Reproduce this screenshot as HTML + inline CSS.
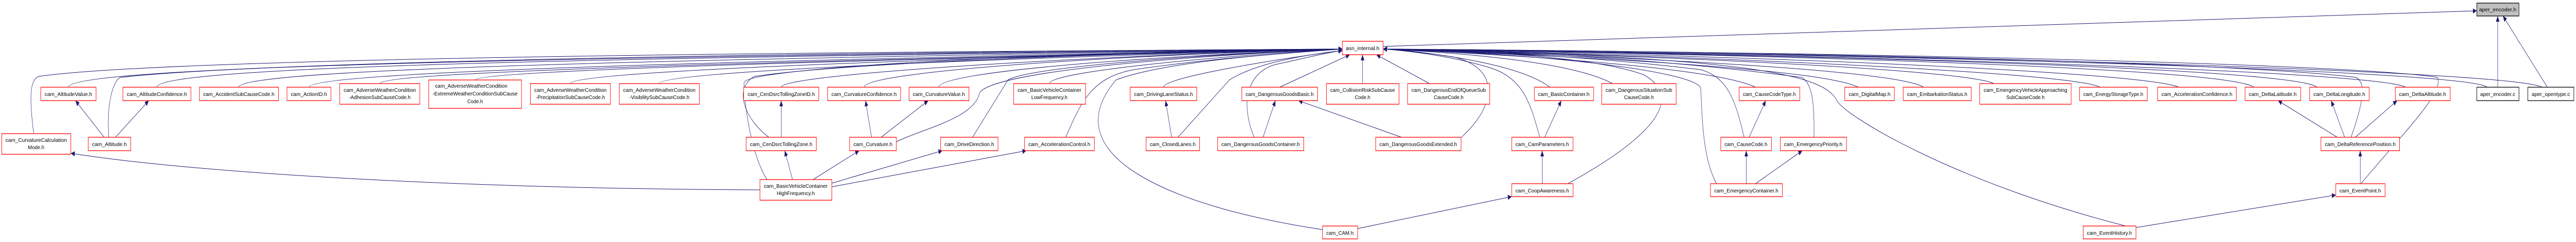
<!DOCTYPE html>
<html><head><meta charset="utf-8"><meta name="viewport" content="width=7271, initial-scale=1"><style>
html,body{margin:0;padding:0;background:#fff;width:100%;height:100%;overflow:hidden;}
svg{display:block;position:absolute;left:0;top:0;width:100vw;height:100vh;}
text{font-family:"Liberation Sans",sans-serif;font-size:10px;fill:#000;}
.n{fill:#fff;stroke:#ff0000;stroke-width:1.3;}
.b{fill:#fff;stroke:#000;stroke-width:1.3;}
.e{fill:none;stroke:#191970;stroke-width:1;}
</style></head><body>
<svg viewBox="0 0 7271 469" preserveAspectRatio="none" xmlns="http://www.w3.org/2000/svg">
<defs><marker id="a" markerUnits="userSpaceOnUse" markerWidth="12" markerHeight="10" refX="11" refY="5" orient="auto"><path d="M0,0 L11,5 L0,10 z" fill="#191970"/></marker></defs>
<g class="e" marker-end="url(#a)">
<path d="M193,169 C193,130 1500,110 3789,95"/>
<path d="M443,169 C443,130 1600,112 3789,95"/>
<path d="M674,169 C674,135 1800,115 3789,95"/>
<path d="M872,169 C872,140 2000,118 3789,95"/>
<path d="M1072,162 C1072,140 2100,120 3789,95"/>
<path d="M1341,155 C1341,138 2300,118 3789,95"/>
<path d="M1610,162 C1610,140 2500,115 3789,95"/>
<path d="M1861,162 C1861,140 2700,115 3789,95"/>
<path d="M2205,169 C2205,145 3000,110 3789,95"/>
<path d="M2439,169 C2439,140 3100,108 3789,95"/>
<path d="M2650,169 C2650,140 3200,110 3789,95"/>
<path d="M2962,162 C2962,140 3400,110 3789,95"/>
<path d="M3284,169 C3284,150 3600,115 3789,98"/>
<path d="M3612,169 L3810,106"/>
<path d="M95,259 C85,200 80,155 110,148 C500,110 2500,100 3789,95"/>
<path d="M307,266 C300,200 320,155 340,150 C800,115 2600,100 3789,95"/>
<path d="M2170,266 C2100,230 2070,170 2130,148 C2400,120 3300,100 3789,95"/>
<path d="M2530,275 C2600,250 2750,230 2765,180 C2800,140 3300,110 3789,95"/>
<path d="M2745,266 L2845,155 C2900,130 3400,105 3789,95"/>
<path d="M3008,266 C3050,200 3080,150 3200,135 C3450,110 3700,100 3789,95"/>
<path d="M3325,266 L3470,155 C3550,120 3700,105 3789,98"/>
<path d="M3540,266 C3500,200 3520,140 3600,125 C3700,110 3760,100 3789,98"/>
<path d="M2165,348 C2120,300 2100,200 2100,160 C2110,130 3000,100 3789,95"/>
<path d="M3733,445 C3300,400 2970,300 3150,155 C3300,115 3700,100 3789,95"/>
<path d="M3846,162 L3846,106"/>
<path d="M4035,162 L3885,106"/>
<path d="M4375,169 C4300,130 4100,105 3904,95"/>
<path d="M4552,162 C4450,125 4200,105 3904,95"/>
<path d="M4955,169 C4850,135 4400,110 3904,95"/>
<path d="M5245,169 C5150,135 4500,110 3904,95"/>
<path d="M5430,169 C5350,135 4600,110 3904,95"/>
<path d="M5628,162 C5550,135 4700,108 3904,95"/>
<path d="M5928,169 C5850,140 4800,108 3904,95"/>
<path d="M6150,169 C6050,140 5000,108 3904,95"/>
<path d="M6362,169 C6300,135 5200,108 3904,95"/>
<path d="M6540,169 C6480,135 5300,108 3904,95"/>
<path d="M6790,169 C6720,140 5400,108 3904,95"/>
<path d="M7020,169 C6980,140 5600,108 3904,95"/>
<path d="M7175,169 C7100,140 5700,108 3904,95"/>
<path d="M4125,266 C4230,200 4230,130 4100,110 C4000,100 3950,96 3904,95"/>
<path d="M4346,266 C4320,200 4300,150 4200,130 C4100,110 4000,100 3904,95"/>
<path d="M4923,266 C4900,200 4880,150 4800,135 C4500,110 4200,100 3904,95"/>
<path d="M5120,266 C5122,200 5115,160 5085,150 C4700,115 4300,100 3904,95"/>
<path d="M6636,266 C6670,200 6680,160 6650,150 C6300,120 5000,100 3904,95"/>
<path d="M4425,356 C4600,290 4780,200 4640,145 C4500,110 4200,100 3904,95"/>
<path d="M4845,356 C4800,300 4805,200 4800,170 C4780,140 4400,105 3904,95"/>
<path d="M6664,356 C6780,260 6900,180 6880,150 C6600,120 5000,100 3904,95"/>
<path d="M6000,438 C5500,350 5200,220 5185,195 C5150,150 5000,110 3904,95"/>
<path d="M294,266 L213,195"/>
<path d="M326,266 L420,195"/>
<path d="M2205,266 L2205,195"/>
<path d="M2237,348 L2215,292"/>
<path d="M2145,368 C1200,365 500,330 200,297"/>
<path d="M2295,348 L2425,292"/>
<path d="M2348,355 L2660,292"/>
<path d="M2348,362 L2897,292"/>
<path d="M2460,266 L2443,195"/>
<path d="M2487,266 L2620,195"/>
<path d="M3307,266 L3290,195"/>
<path d="M3565,266 L3600,195"/>
<path d="M3956,266 L3665,195"/>
<path d="M4360,266 L4407,195"/>
<path d="M4353,356 L4353,292"/>
<path d="M3832,443 L4267,381"/>
<path d="M4937,266 L4984,195"/>
<path d="M4929,356 L4929,292"/>
<path d="M4955,356 L5087,292"/>
<path d="M6597,266 L6430,195"/>
<path d="M6618,266 L6580,195"/>
<path d="M6648,266 L6766,195"/>
<path d="M6662,356 L6662,292"/>
<path d="M6029,441 L6593,378"/>
<path d="M7050,169 L7050,31"/>
<path d="M7190,169 L7065,31"/>
<path d="M3904,90 L6991,21"/>
</g>
<g>
<rect x="6991" y="6" width="119" height="25" fill="#bfbfbf" stroke="#000" stroke-width="1.3"/>
<text x="7050" y="22" text-anchor="middle" textLength="105" lengthAdjust="spacingAndGlyphs">aper_encoder.h</text>
<rect class="n" x="3789" y="80" width="115" height="26"/>
<text x="3846" y="97" text-anchor="middle" textLength="95" lengthAdjust="spacingAndGlyphs">asn_internal.h</text>

<rect class="n" x="115" y="169" width="156" height="26"/><text x="193" y="186" text-anchor="middle" textLength="134" lengthAdjust="spacingAndGlyphs">cam_AltitudeValue.h</text>
<rect class="n" x="347" y="169" width="192" height="26"/><text x="443" y="186" text-anchor="middle" textLength="170" lengthAdjust="spacingAndGlyphs">cam_AltitudeConfidence.h</text>
<rect class="n" x="563" y="169" width="223" height="26"/><text x="674" y="186" text-anchor="middle" textLength="201" lengthAdjust="spacingAndGlyphs">cam_AccidentSubCauseCode.h</text>
<rect class="n" x="810" y="169" width="124" height="26"/><text x="872" y="186" text-anchor="middle" textLength="102" lengthAdjust="spacingAndGlyphs">cam_ActionID.h</text>
<rect class="n" x="959" y="162" width="226" height="40"/><text x="1072" y="178" text-anchor="middle" textLength="204" lengthAdjust="spacingAndGlyphs">cam_AdverseWeatherCondition</text><text x="1072" y="192" text-anchor="middle" textLength="174" lengthAdjust="spacingAndGlyphs">-AdhesionSubCauseCode.h</text>
<rect class="n" x="1210" y="155" width="262" height="55"/><text x="1330" y="170" text-anchor="middle" textLength="204" lengthAdjust="spacingAndGlyphs">cam_AdverseWeatherCondition</text><text x="1341" y="185" text-anchor="middle" textLength="240" lengthAdjust="spacingAndGlyphs">-ExtremeWeatherConditionSubCause</text><text x="1341" y="200" text-anchor="middle" textLength="44" lengthAdjust="spacingAndGlyphs">Code.h</text>
<rect class="n" x="1497" y="162" width="226" height="40"/><text x="1610" y="178" text-anchor="middle" textLength="204" lengthAdjust="spacingAndGlyphs">cam_AdverseWeatherCondition</text><text x="1610" y="192" text-anchor="middle" textLength="195" lengthAdjust="spacingAndGlyphs">-PrecipitationSubCauseCode.h</text>
<rect class="n" x="1748" y="162" width="226" height="40"/><text x="1861" y="178" text-anchor="middle" textLength="204" lengthAdjust="spacingAndGlyphs">cam_AdverseWeatherCondition</text><text x="1861" y="192" text-anchor="middle" textLength="170" lengthAdjust="spacingAndGlyphs">-VisibilitySubCauseCode.h</text>
<rect class="n" x="2099" y="169" width="212" height="26"/><text x="2205" y="186" text-anchor="middle" textLength="190" lengthAdjust="spacingAndGlyphs">cam_CenDsrcTollingZoneID.h</text>
<rect class="n" x="2336" y="169" width="206" height="26"/><text x="2439" y="186" text-anchor="middle" textLength="184" lengthAdjust="spacingAndGlyphs">cam_CurvatureConfidence.h</text>
<rect class="n" x="2566" y="169" width="169" height="26"/><text x="2650" y="186" text-anchor="middle" textLength="147" lengthAdjust="spacingAndGlyphs">cam_CurvatureValue.h</text>
<rect class="n" x="2861" y="162" width="203" height="40"/><text x="2962" y="178" text-anchor="middle" textLength="180" lengthAdjust="spacingAndGlyphs">cam_BasicVehicleContainer</text><text x="2962" y="192" text-anchor="middle" textLength="102" lengthAdjust="spacingAndGlyphs">LowFrequency.h</text>
<rect class="n" x="3190" y="169" width="188" height="26"/><text x="3284" y="186" text-anchor="middle" textLength="166" lengthAdjust="spacingAndGlyphs">cam_DrivingLaneStatus.h</text>
<rect class="n" x="3505" y="169" width="214" height="26"/><text x="3612" y="186" text-anchor="middle" textLength="192" lengthAdjust="spacingAndGlyphs">cam_DangerousGoodsBasic.h</text>
<rect class="n" x="3744" y="162" width="205" height="40"/><text x="3846" y="178" text-anchor="middle" textLength="183" lengthAdjust="spacingAndGlyphs">cam_CollisionRiskSubCause</text><text x="3846" y="192" text-anchor="middle" textLength="44" lengthAdjust="spacingAndGlyphs">Code.h</text>
<rect class="n" x="3973" y="162" width="232" height="40"/><text x="4089" y="178" text-anchor="middle" textLength="210" lengthAdjust="spacingAndGlyphs">cam_DangerousEndOfQueueSub</text><text x="4089" y="192" text-anchor="middle" textLength="84" lengthAdjust="spacingAndGlyphs">CauseCode.h</text>
<rect class="n" x="4331" y="169" width="167" height="26"/><text x="4414" y="186" text-anchor="middle" textLength="145" lengthAdjust="spacingAndGlyphs">cam_BasicContainer.h</text>
<rect class="n" x="4521" y="162" width="210" height="40"/><text x="4626" y="178" text-anchor="middle" textLength="188" lengthAdjust="spacingAndGlyphs">cam_DangerousSituationSub</text><text x="4626" y="192" text-anchor="middle" textLength="84" lengthAdjust="spacingAndGlyphs">CauseCode.h</text>
<rect class="n" x="4909" y="169" width="171" height="26"/><text x="4994" y="186" text-anchor="middle" textLength="149" lengthAdjust="spacingAndGlyphs">cam_CauseCodeType.h</text>
<rect class="n" x="5207" y="169" width="140" height="26"/><text x="5277" y="186" text-anchor="middle" textLength="118" lengthAdjust="spacingAndGlyphs">cam_DigitalMap.h</text>
<rect class="n" x="5372" y="169" width="192" height="26"/><text x="5468" y="186" text-anchor="middle" textLength="170" lengthAdjust="spacingAndGlyphs">cam_EmbarkationStatus.h</text>
<rect class="n" x="5588" y="162" width="258" height="40"/><text x="5717" y="178" text-anchor="middle" textLength="236" lengthAdjust="spacingAndGlyphs">cam_EmergencyVehicleApproaching</text><text x="5717" y="192" text-anchor="middle" textLength="108" lengthAdjust="spacingAndGlyphs">SubCauseCode.h</text>
<rect class="n" x="5870" y="169" width="191" height="26"/><text x="5965" y="186" text-anchor="middle" textLength="169" lengthAdjust="spacingAndGlyphs">cam_EnergyStorageType.h</text>
<rect class="n" x="6090" y="169" width="222" height="26"/><text x="6201" y="186" text-anchor="middle" textLength="200" lengthAdjust="spacingAndGlyphs">cam_AccelerationConfidence.h</text>
<rect class="n" x="6337" y="169" width="157" height="26"/><text x="6415" y="186" text-anchor="middle" textLength="135" lengthAdjust="spacingAndGlyphs">cam_DeltaLatitude.h</text>
<rect class="n" x="6519" y="169" width="168" height="26"/><text x="6603" y="186" text-anchor="middle" textLength="146" lengthAdjust="spacingAndGlyphs">cam_DeltaLongitude.h</text>
<rect class="n" x="6761" y="169" width="155" height="26"/><text x="6838" y="186" text-anchor="middle" textLength="133" lengthAdjust="spacingAndGlyphs">cam_DeltaAltitude.h</text>
<rect class="b" x="6991" y="169" width="119" height="26"/><text x="7050" y="186" text-anchor="middle" textLength="99" lengthAdjust="spacingAndGlyphs">aper_encoder.c</text>
<rect class="b" x="7135" y="169" width="130" height="26"/><text x="7200" y="186" text-anchor="middle" textLength="108" lengthAdjust="spacingAndGlyphs">aper_opentype.c</text>

<rect class="n" x="5" y="259" width="195" height="40"/><text x="102" y="275" text-anchor="middle" textLength="173" lengthAdjust="spacingAndGlyphs">cam_CurvatureCalculation</text><text x="102" y="289" text-anchor="middle" textLength="46" lengthAdjust="spacingAndGlyphs">Mode.h</text>
<rect class="n" x="249" y="266" width="120" height="26"/><text x="309" y="283" text-anchor="middle" textLength="98" lengthAdjust="spacingAndGlyphs">cam_Altitude.h</text>
<rect class="n" x="2106" y="266" width="198" height="26"/><text x="2205" y="283" text-anchor="middle" textLength="176" lengthAdjust="spacingAndGlyphs">cam_CenDsrcTollingZone.h</text>
<rect class="n" x="2398" y="266" width="132" height="26"/><text x="2464" y="283" text-anchor="middle" textLength="110" lengthAdjust="spacingAndGlyphs">cam_Curvature.h</text>
<rect class="n" x="2655" y="266" width="162" height="26"/><text x="2736" y="283" text-anchor="middle" textLength="140" lengthAdjust="spacingAndGlyphs">cam_DriveDirection.h</text>
<rect class="n" x="2892" y="266" width="197" height="26"/><text x="2990" y="283" text-anchor="middle" textLength="175" lengthAdjust="spacingAndGlyphs">cam_AccelerationControl.h</text>
<rect class="n" x="3235" y="266" width="151" height="26"/><text x="3310" y="283" text-anchor="middle" textLength="129" lengthAdjust="spacingAndGlyphs">cam_ClosedLanes.h</text>
<rect class="n" x="3437" y="266" width="243" height="26"/><text x="3558" y="283" text-anchor="middle" textLength="221" lengthAdjust="spacingAndGlyphs">cam_DangerousGoodsContainer.h</text>
<rect class="n" x="3883" y="266" width="241" height="26"/><text x="4003" y="283" text-anchor="middle" textLength="219" lengthAdjust="spacingAndGlyphs">cam_DangerousGoodsExtended.h</text>
<rect class="n" x="4267" y="266" width="173" height="26"/><text x="4353" y="283" text-anchor="middle" textLength="151" lengthAdjust="spacingAndGlyphs">cam_CamParameters.h</text>
<rect class="n" x="4857" y="266" width="143" height="26"/><text x="4928" y="283" text-anchor="middle" textLength="121" lengthAdjust="spacingAndGlyphs">cam_CauseCode.h</text>
<rect class="n" x="5025" y="266" width="187" height="26"/><text x="5118" y="283" text-anchor="middle" textLength="165" lengthAdjust="spacingAndGlyphs">cam_EmergencyPriority.h</text>
<rect class="n" x="6551" y="266" width="222" height="26"/><text x="6662" y="283" text-anchor="middle" textLength="200" lengthAdjust="spacingAndGlyphs">cam_DeltaReferencePosition.h</text>

<rect class="n" x="2145" y="348" width="203" height="40"/><text x="2246" y="364" text-anchor="middle" textLength="180" lengthAdjust="spacingAndGlyphs">cam_BasicVehicleContainer</text><text x="2246" y="378" text-anchor="middle" textLength="107" lengthAdjust="spacingAndGlyphs">HighFrequency.h</text>
<rect class="n" x="4267" y="356" width="173" height="25"/><text x="4353" y="373" text-anchor="middle" textLength="151" lengthAdjust="spacingAndGlyphs">cam_CoopAwareness.h</text>
<rect class="n" x="4828" y="356" width="203" height="25"/><text x="4929" y="373" text-anchor="middle" textLength="181" lengthAdjust="spacingAndGlyphs">cam_EmergencyContainer.h</text>
<rect class="n" x="6593" y="356" width="139" height="25"/><text x="6662" y="373" text-anchor="middle" textLength="117" lengthAdjust="spacingAndGlyphs">cam_EventPoint.h</text>

<rect class="n" x="3733" y="438" width="99" height="25"/><text x="3782" y="455" text-anchor="middle" textLength="77" lengthAdjust="spacingAndGlyphs">cam_CAM.h</text>
<rect class="n" x="5880" y="438" width="149" height="25"/><text x="5954" y="455" text-anchor="middle" textLength="127" lengthAdjust="spacingAndGlyphs">cam_EventHistory.h</text>
</g>
</svg>
</body></html>
